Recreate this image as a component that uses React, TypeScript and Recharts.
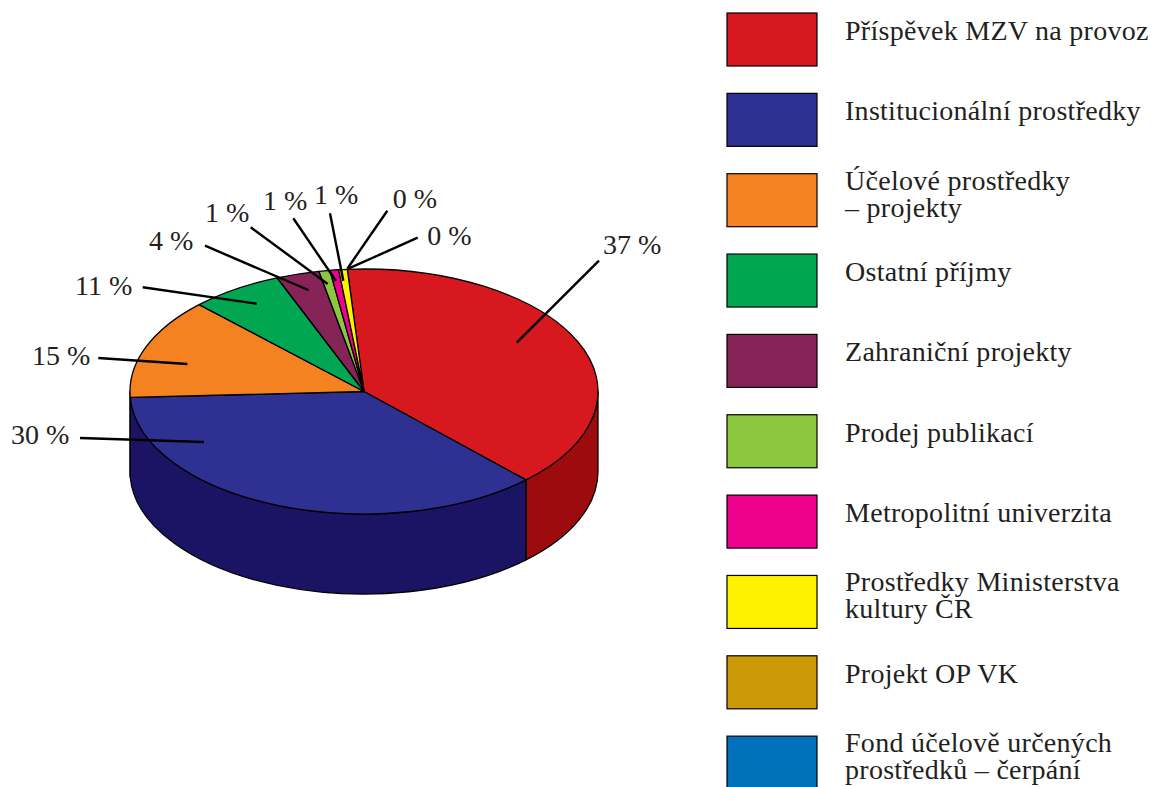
import { Legend, Pie, PieChart } from "recharts";

const legendLines = [
  ["Příspěvek MZV na provoz"],
  ["Institucionální prostředky"],
  ["Účelové prostředky", "– projekty"],
  ["Ostatní příjmy"],
  ["Zahraniční projekty"],
  ["Prodej publikací"],
  ["Metropolitní univerzita"],
  ["Prostředky Ministerstva", "kultury ČR"],
  ["Projekt OP VK"],
  ["Fond účelově určených", "prostředků – čerpání"],
];
// slice sizes as drawn in the picture, they differ from the printed percentages
const shares = [38.97, 36.39, 13.33, 6.39, 2.97, 0.76, 0.6, 0.59, 0, 0];
const percentLabels = ["37 %", "30 %", "15 %", "11 %", "4 %", "1 %", "1 %", "1 %", "0 %", "0 %"];
const topColors = ["#d7181f", "#2e3192", "#f58220", "#00a651", "#862457", "#8dc63f", "#ec008c", "#fff200", "#cc9909", "#0072bc"];
const wallColors = ["#9e0b0f", "#1b1464", "#1b1464", "#007236", "#5e1640", "#5f8a28", "#9e005d", "#aba000", "#8a6500", "#004a80"];

const CX = 364;
const CY = 391.5;
const RX = 234;
const RY = 122.5;
const DEPTH = 80;
const START = 94.09;
const FONT = "'Liberation Serif', serif";
const INK = "#231f20";

// leader line ends and text start, as offsets from the pie centre
const leaders = [
  [152.7, -48.8, 235, -130.8, 239, -137.5],
  [-160, 50.5, -284, 46.5, -353, 52.5],
  [-176.7, -27.5, -265.7, -33.5, -332, -26.8],
  [-107.3, -87.8, -221.3, -104.2, -289, -96.5],
  [-55.7, -101.5, -159, -145.8, -215, -141.5],
  [-36.3, -107.5, -113.3, -164.2, -159, -169.5],
  [-28, -110.5, -70.7, -173.2, -101, -181.5],
  [-20.7, -110.8, -34, -178.2, -50, -187.5],
  [-16.7, -122.8, 23.3, -180.8, 28.7, -183.8],
  [-15.7, -122.8, 53.7, -153.8, 63.3, -146.5],
];

const pieData = shares.map((share, i) => ({
  name: legendLines[i].join(" "),
  share,
  fill: topColors[i],
}));
const wallData = shares.map((share, i) => ({
  name: legendLines[i].join(" "),
  share,
  fill: wallColors[i],
}));

const pointAt = (cx: number, cy: number, r: number, angle: number) => {
  const a = (angle * Math.PI) / 180;
  return [cx + r * Math.cos(a), cy - (r * RY * Math.sin(a)) / RX];
};

function TopSlice(props: any) {
  const { cx, cy, outerRadius, startAngle, endAngle, fill } = props;
  if (Math.abs(startAngle - endAngle) < 0.01) return null;
  const [x1, y1] = pointAt(cx, cy, outerRadius, startAngle);
  const [x2, y2] = pointAt(cx, cy, outerRadius, endAngle);
  const large = startAngle - endAngle > 180 ? 1 : 0;
  const d = `M${cx} ${cy}L${x1} ${y1}A${outerRadius} ${(outerRadius * RY) / RX} 0 ${large} 1 ${x2} ${y2}Z`;
  return <path d={d} fill={fill} stroke="#000" strokeWidth={1.3} strokeLinejoin="round" />;
}

// only the front half of the rim can be seen
function WallSlice(props: any) {
  const { cx, cy, outerRadius, startAngle, endAngle, fill } = props;
  const from = Math.min(startAngle, 0);
  const to = Math.max(endAngle, -180);
  if (from - to < 0.01) return null;
  const [x1, y1] = pointAt(cx, cy, outerRadius, from);
  const [x2, y2] = pointAt(cx, cy, outerRadius, to);
  const ry = (outerRadius * RY) / RX;
  const d = `M${x1} ${y1}A${outerRadius} ${ry} 0 0 1 ${x2} ${y2}L${x2} ${y2 + DEPTH}A${outerRadius} ${ry} 0 0 0 ${x1} ${y1 + DEPTH}Z`;
  return <path d={d} fill={fill} stroke="#000" strokeWidth={1.3} strokeLinejoin="round" />;
}

function LeaderLabel(props: any) {
  const { index, cx, cy } = props;
  const [ix, iy, ox, oy, tx, ty] = leaders[index];
  return (
    <g>
      <line x1={cx + ix} y1={cy + iy} x2={cx + ox} y2={cy + oy} stroke="#000" strokeWidth={2.4} />
      <text x={cx + tx} y={cy + ty} fill={INK} fontFamily={FONT} fontSize={28} textAnchor="start">
        {percentLabels[index]}
      </text>
    </g>
  );
}

function SwatchLegend() {
  return (
    <svg width={1154} height={787} style={{ display: "block" }}>
      {legendLines.map((lines, i) => {
        const top = 13 + 80.35 * i;
        return (
          <g key={lines[0]}>
            <rect x={727} y={top} width={90} height={53} fill={topColors[i]} stroke="#000" strokeWidth={1.2} />
            {lines.map((line, j) => (
              <text
                key={line}
                x={845}
                y={top + (lines.length === 1 ? 27 : 16 + 27 * j)}
                fill={INK}
                fontFamily={FONT}
                fontSize={28}
                letterSpacing={0.28}
              >
                {line}
              </text>
            ))}
          </g>
        );
      })}
    </svg>
  );
}

export default function App() {
  return (
    <div style={{ position: "absolute", left: 0, top: 0, width: 1154, height: 787, overflow: "hidden", background: "#fff" }}>
      <PieChart width={1154} height={787} margin={{ top: 0, right: 0, bottom: 0, left: 0 }}>
        <Pie
          data={wallData}
          dataKey="share"
          nameKey="name"
          cx={CX}
          cy={CY}
          innerRadius={0}
          outerRadius={RX}
          startAngle={START}
          endAngle={START - 360}
          shape={WallSlice}
          legendType="none"
          isAnimationActive={false}
        />
        <Pie
          data={pieData}
          dataKey="share"
          nameKey="name"
          cx={CX}
          cy={CY}
          innerRadius={0}
          outerRadius={RX}
          startAngle={START}
          endAngle={START - 360}
          shape={TopSlice}
          label={LeaderLabel}
          labelLine={false}
          isAnimationActive={false}
        />
        <Legend
          content={SwatchLegend}
          wrapperStyle={{ position: "absolute", left: 0, top: 0, width: 1154, height: 787, pointerEvents: "none" }}
        />
      </PieChart>
    </div>
  );
}
